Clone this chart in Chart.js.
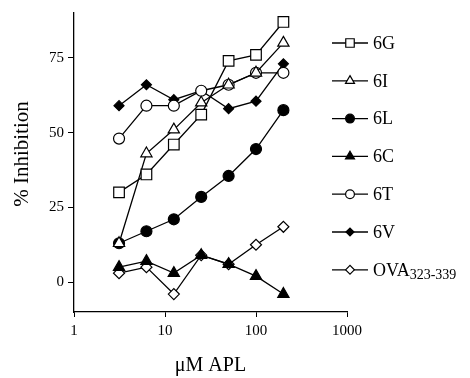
<!DOCTYPE html>
<html>
<head>
<meta charset="utf-8">
<script src="https://cdn.jsdelivr.net/npm/chart.js@4.4.0/dist/chart.umd.min.js"></script>
<style>
  html, body { margin: 0; padding: 0; background: #fff; }
</style>
</head>
<body>
<canvas id="apl" width="470" height="378"></canvas>
<script>
// concentration (uM) and % inhibition
const doses = [3.125, 6.25, 12.5, 25, 50, 100, 200];
const xTicks = [1, 10, 100, 1000];
const yTicks = [0, 25, 50, 75];

const seriesNames = ['6G', '6I', '6L', '6C', '6T', '6V', 'OVA'];
const seriesSubs = ['', '', '', '', '', '', '323-339'];

const inh6G = [30, 36, 46, 56, 74, 76, 87];
const inh6I = [13, 43, 51, 60, 66, 70, 80];
const inh6L = [13, 17, 21, 28.5, 35.5, 44.5, 57.5];
const inh6C = [5, 7, 3, 9, 6, 2, -4];
const inh6T = [48, 59, 59, 64, 66, 70, 70];
const inh6V = [59, 66, 61, 64, 58, 60.5, 73];
const inhOVA = [3, 5, -4, 9, 6, 12.5, 18.5];

const serif = '"Liberation Serif", "Times New Roman", serif';

function makeSet(name, values, style, fill, radius) {
    return {
        label: name,
        data: values.map((v, i) => ({ x: doses[i], y: v })),
        borderColor: '#000',
        borderWidth: 1.3,
        pointStyle: style,
        pointBackgroundColor: fill,
        pointBorderColor: '#000',
        pointBorderWidth: 1.2,
        pointRadius: radius,
        pointHoverRadius: radius,
        tension: 0
    };
}

// legend on the right + rotated y title
const sideLegend = {
    id: 'sideLegend',
    afterDraw(chart) {
        const ctx = chart.ctx;
        ctx.save();
        chart.data.datasets.forEach((ds, i) => {
            const y = 43 + i * 37.8;
            ctx.strokeStyle = '#000';
            ctx.lineWidth = 1.3;
            ctx.beginPath();
            ctx.moveTo(332, y);
            ctx.lineTo(368, y);
            ctx.stroke();

            ctx.fillStyle = ds.pointBackgroundColor;
            ctx.lineWidth = 1.2;
            Chart.helpers.drawPoint(ctx, {
                pointStyle: ds.pointStyle,
                radius: ds.pointRadius * 0.8,
                borderWidth: 1.2,
                rotation: 0
            }, 350, y);

            ctx.fillStyle = '#000';
            ctx.textBaseline = 'middle';
            ctx.textAlign = 'left';
            ctx.font = '18px ' + serif;
            ctx.fillText(seriesNames[i], 373, y + 1);
            if (seriesSubs[i]) {
                const w = ctx.measureText(seriesNames[i]).width;
                ctx.font = '14px ' + serif;
                ctx.fillText(seriesSubs[i], 373 + w, y + 6);
            }
        });

        ctx.translate(22, 154);
        ctx.rotate(-Math.PI / 2);
        ctx.textAlign = 'center';
        ctx.textBaseline = 'middle';
        ctx.font = '21px ' + serif;
        ctx.fillStyle = '#000';
        ctx.fillText('% Inhibition', 0, 0);
        ctx.restore();
    }
};

new Chart(document.getElementById('apl'), {
    type: 'line',
    data: {
        datasets: [
            makeSet('6G', inh6G, 'rect', '#fff', 7.5),
            makeSet('6I', inh6I, 'triangle', '#fff', 6.5),
            makeSet('6L', inh6L, 'circle', '#000', 5.5),
            makeSet('6C', inh6C, 'triangle', '#000', 6.5),
            makeSet('6T', inh6T, 'circle', '#fff', 5.5),
            makeSet('6V', inh6V, 'rectRot', '#000', 5),
            makeSet('OVA323-339', inhOVA, 'rectRot', '#fff', 5.5)
        ]
    },
    options: {
        responsive: false,
        animation: false,
        devicePixelRatio: 1,
        layout: { padding: { top: 13, right: 123, left: 0, bottom: 0 } },
        plugins: { legend: { display: false }, tooltip: { enabled: false } },
        scales: {
            x: {
                type: 'logarithmic',
                min: 1,
                max: 1000,
                afterBuildTicks: (s) => { s.ticks = xTicks.map(v => ({ value: v })); },
                afterFit: (s) => { s.height = 66; },
                grid: { drawOnChartArea: false, drawTicks: true, tickLength: 5, color: '#000', lineWidth: 1 },
                border: { color: '#000', width: 1.3 },
                ticks: {
                    color: '#000',
                    padding: 5,
                    maxRotation: 0,
                    font: { family: serif, size: 15 },
                    callback: (v) => String(v)
                },
                title: {
                    display: true,
                    text: 'μM APL',
                    color: '#000',
                    font: { family: serif, size: 20 },
                    padding: { top: 0, bottom: 0 }
                }
            },
            y: {
                min: -10,
                max: 90,
                afterBuildTicks: (s) => { s.ticks = yTicks.map(v => ({ value: v })); },
                afterFit: (s) => { s.width = 74; },
                grid: { drawOnChartArea: false, drawTicks: true, tickLength: 6, color: '#000', lineWidth: 1 },
                border: { color: '#000', width: 1.3 },
                ticks: {
                    color: '#000',
                    padding: 4,
                    font: { family: serif, size: 15 }
                }
            }
        }
    },
    plugins: [sideLegend]
});
</script>
</body>
</html>
